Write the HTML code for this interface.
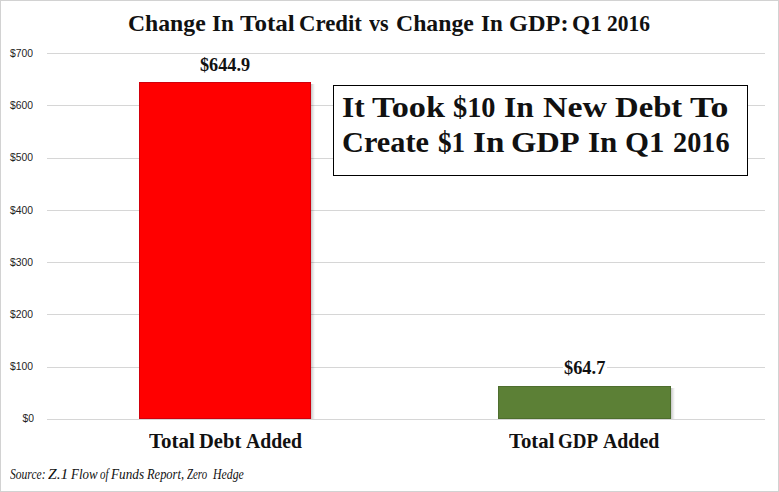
<!DOCTYPE html>
<html>
<head>
<meta charset="utf-8">
<style>
html,body{margin:0;padding:0;background:#fff;}
body{width:779px;height:492px;position:relative;overflow:hidden;}
#frame{position:absolute;left:0;top:0;width:777px;height:490px;border:1px solid #d2d2d2;}
.w{position:absolute;white-space:nowrap;line-height:1;color:#111;transform-origin:0 0;}
.grid{position:absolute;left:47px;width:718px;height:1px;background:#d6d6d6;}
.yl{position:absolute;width:40px;left:-7.8px;text-align:right;font-family:"Liberation Sans",sans-serif;font-size:10.8px;line-height:10.8px;color:#222;transform:scaleX(0.96);transform-origin:100% 0;}
.bar{position:absolute;}
.v{position:absolute;white-space:nowrap;line-height:1;color:#111;font-family:"Liberation Serif",serif;font-weight:bold;transform-origin:0 0;}
</style>
</head>
<body>
<div id="frame"></div>
<div class="grid" style="top:53px"></div>
<div class="grid" style="top:105px"></div>
<div class="grid" style="top:158px"></div>
<div class="grid" style="top:210px"></div>
<div class="grid" style="top:262px"></div>
<div class="grid" style="top:314px"></div>
<div class="grid" style="top:367px"></div>
<div class="grid" style="top:419px"></div>
<div class="yl" style="top:48.16px;left:-7.30px">$700</div>
<div class="yl" style="top:100.30px;left:-7.30px">$600</div>
<div class="yl" style="top:152.44px;left:-7.30px">$500</div>
<div class="yl" style="top:204.58px;left:-7.30px">$400</div>
<div class="yl" style="top:256.72px;left:-7.30px">$300</div>
<div class="yl" style="top:308.86px;left:-7.30px">$200</div>
<div class="yl" style="top:361.00px;left:-7.30px">$100</div>
<div class="yl" style="top:413.14px;left:-6.10px">$0</div>
<div class="bar" style="left:311px;top:84px;width:4px;height:335px;background:linear-gradient(to right,rgba(0,0,0,0.22),rgba(0,0,0,0.10) 50%,rgba(0,0,0,0));"></div>
<div class="bar" style="left:139px;top:82px;width:170px;height:335px;background:#ff0000;border:1px solid #d0000c;"></div>
<div class="bar" style="left:671px;top:388px;width:4px;height:31px;background:linear-gradient(to right,rgba(0,0,0,0.22),rgba(0,0,0,0.10) 50%,rgba(0,0,0,0));"></div>
<div class="bar" style="left:498px;top:386px;width:171px;height:31px;background:#5c8036;border:1px solid #4e6e2e;"></div>
<div class="v" style="left:200px;top:54.5px;font-size:19.4px;transform:scaleX(0.94);">$644.9</div>
<div style="position:absolute;left:563px;top:360px;width:44px;height:16px;background:#fff;"></div>
<div class="v" style="left:564px;top:358px;font-size:19.4px;transform:scaleX(0.947);">$64.7</div>
<div style="position:absolute;left:333px;top:85px;width:413px;height:89px;border:1px solid #000;background:#fff;"></div>
<div class="w" style="left:128.16px;top:13.1px;font-family:'Liberation Serif',serif;font-weight:bold;font-size:22.75px;transform:scaleX(1.0411)">Change</div>
<div class="w" style="left:212.04px;top:13.1px;font-family:'Liberation Serif',serif;font-weight:bold;font-size:22.75px;transform:scaleX(1.0146)">In</div>
<div class="w" style="left:240.22px;top:13.1px;font-family:'Liberation Serif',serif;font-weight:bold;font-size:22.75px;transform:scaleX(1.1025)">Total</div>
<div class="w" style="left:299.10px;top:13.1px;font-family:'Liberation Serif',serif;font-weight:bold;font-size:22.75px;transform:scaleX(1.0024)">Credit</div>
<div class="w" style="left:369.40px;top:13.1px;font-family:'Liberation Serif',serif;font-weight:bold;font-size:22.75px;transform:scaleX(0.9722)">vs</div>
<div class="w" style="left:395.66px;top:13.1px;font-family:'Liberation Serif',serif;font-weight:bold;font-size:22.75px;transform:scaleX(1.0438)">Change</div>
<div class="w" style="left:480.84px;top:13.1px;font-family:'Liberation Serif',serif;font-weight:bold;font-size:22.75px;transform:scaleX(1.0098)">In</div>
<div class="w" style="left:508.63px;top:13.1px;font-family:'Liberation Serif',serif;font-weight:bold;font-size:22.75px;transform:scaleX(1.0705)">GDP:</div>
<div class="w" style="left:571.77px;top:13.1px;font-family:'Liberation Serif',serif;font-weight:bold;font-size:22.75px;transform:scaleX(1.0259)">Q1</div>
<div class="w" style="left:606.79px;top:13.1px;font-family:'Liberation Serif',serif;font-weight:bold;font-size:22.75px;transform:scaleX(0.9446)">2016</div>
<div class="w" style="left:342.06px;top:91.6px;font-family:'Liberation Serif',serif;font-weight:bold;font-size:30.1px;transform:scaleX(1.0410)">It</div>
<div class="w" style="left:372.42px;top:91.6px;font-family:'Liberation Serif',serif;font-weight:bold;font-size:30.1px;transform:scaleX(1.1375)">Took</div>
<div class="w" style="left:452.66px;top:91.6px;font-family:'Liberation Serif',serif;font-weight:bold;font-size:30.1px;transform:scaleX(0.9419)">$10</div>
<div class="w" style="left:503.75px;top:91.6px;font-family:'Liberation Serif',serif;font-weight:bold;font-size:30.1px;transform:scaleX(1.0481)">In</div>
<div class="w" style="left:542.54px;top:91.6px;font-family:'Liberation Serif',serif;font-weight:bold;font-size:30.1px;transform:scaleX(1.1253)">New</div>
<div class="w" style="left:614.76px;top:91.6px;font-family:'Liberation Serif',serif;font-weight:bold;font-size:30.1px;transform:scaleX(1.0873)">Debt</div>
<div class="w" style="left:689.70px;top:91.6px;font-family:'Liberation Serif',serif;font-weight:bold;font-size:30.1px;transform:scaleX(1.1903)">To</div>
<div class="w" style="left:341.59px;top:127.4px;font-family:'Liberation Serif',serif;font-weight:bold;font-size:30.1px;transform:scaleX(1.0077)">Create</div>
<div class="w" style="left:437.90px;top:127.4px;font-family:'Liberation Serif',serif;font-weight:bold;font-size:30.1px;transform:scaleX(0.9045)">$1</div>
<div class="w" style="left:472.70px;top:127.4px;font-family:'Liberation Serif',serif;font-weight:bold;font-size:30.1px;transform:scaleX(1.1000)">In</div>
<div class="w" style="left:510.68px;top:127.4px;font-family:'Liberation Serif',serif;font-weight:bold;font-size:30.1px;transform:scaleX(1.0824)">GDP</div>
<div class="w" style="left:588.27px;top:127.4px;font-family:'Liberation Serif',serif;font-weight:bold;font-size:30.1px;transform:scaleX(1.0296)">In</div>
<div class="w" style="left:625.36px;top:127.4px;font-family:'Liberation Serif',serif;font-weight:bold;font-size:30.1px;transform:scaleX(1.0254)">Q1</div>
<div class="w" style="left:672.93px;top:127.4px;font-family:'Liberation Serif',serif;font-weight:bold;font-size:30.1px;transform:scaleX(0.9397)">2016</div>
<div class="w" style="left:148.85px;top:431.2px;font-family:'Liberation Serif',serif;font-weight:bold;font-size:21px;transform:scaleX(0.9989)">Total</div>
<div class="w" style="left:199.16px;top:431.2px;font-family:'Liberation Serif',serif;font-weight:bold;font-size:21px;transform:scaleX(0.9791)">Debt</div>
<div class="w" style="left:245.60px;top:431.2px;font-family:'Liberation Serif',serif;font-weight:bold;font-size:21px;transform:scaleX(0.9395)">Added</div>
<div class="w" style="left:508.85px;top:431.2px;font-family:'Liberation Serif',serif;font-weight:bold;font-size:21px;transform:scaleX(0.9901)">Total</div>
<div class="w" style="left:557.90px;top:431.2px;font-family:'Liberation Serif',serif;font-weight:bold;font-size:21px;transform:scaleX(0.9029)">GDP</div>
<div class="w" style="left:603.20px;top:431.2px;font-family:'Liberation Serif',serif;font-weight:bold;font-size:21px;transform:scaleX(0.9445)">Added</div>
<div class="w" style="left:10.40px;top:466.85px;font-family:'Liberation Serif',serif;font-style:italic;font-size:14.5px;transform:scaleX(0.7977)">Source:</div>
<div class="w" style="left:48.03px;top:466.85px;font-family:'Liberation Serif',serif;font-style:italic;font-size:14.5px;transform:scaleX(1.0725)">Z.1</div>
<div class="w" style="left:70.80px;top:466.85px;font-family:'Liberation Serif',serif;font-style:italic;font-size:14.5px;transform:scaleX(0.8908)">Flow</div>
<div class="w" style="left:99.51px;top:466.85px;font-family:'Liberation Serif',serif;font-style:italic;font-size:14.5px;transform:scaleX(0.7529)">of</div>
<div class="w" style="left:110.60px;top:466.85px;font-family:'Liberation Serif',serif;font-style:italic;font-size:14.5px;transform:scaleX(0.9119)">Funds</div>
<div class="w" style="left:146.90px;top:466.85px;font-family:'Liberation Serif',serif;font-style:italic;font-size:14.5px;transform:scaleX(0.8592)">Report,</div>
<div class="w" style="left:186.71px;top:466.85px;font-family:'Liberation Serif',serif;font-style:italic;font-size:14.5px;transform:scaleX(0.7467)">Zero</div>
<div class="w" style="left:213.20px;top:466.85px;font-family:'Liberation Serif',serif;font-style:italic;font-size:14.5px;transform:scaleX(0.8132)">Hedge</div>
</body>
</html>
